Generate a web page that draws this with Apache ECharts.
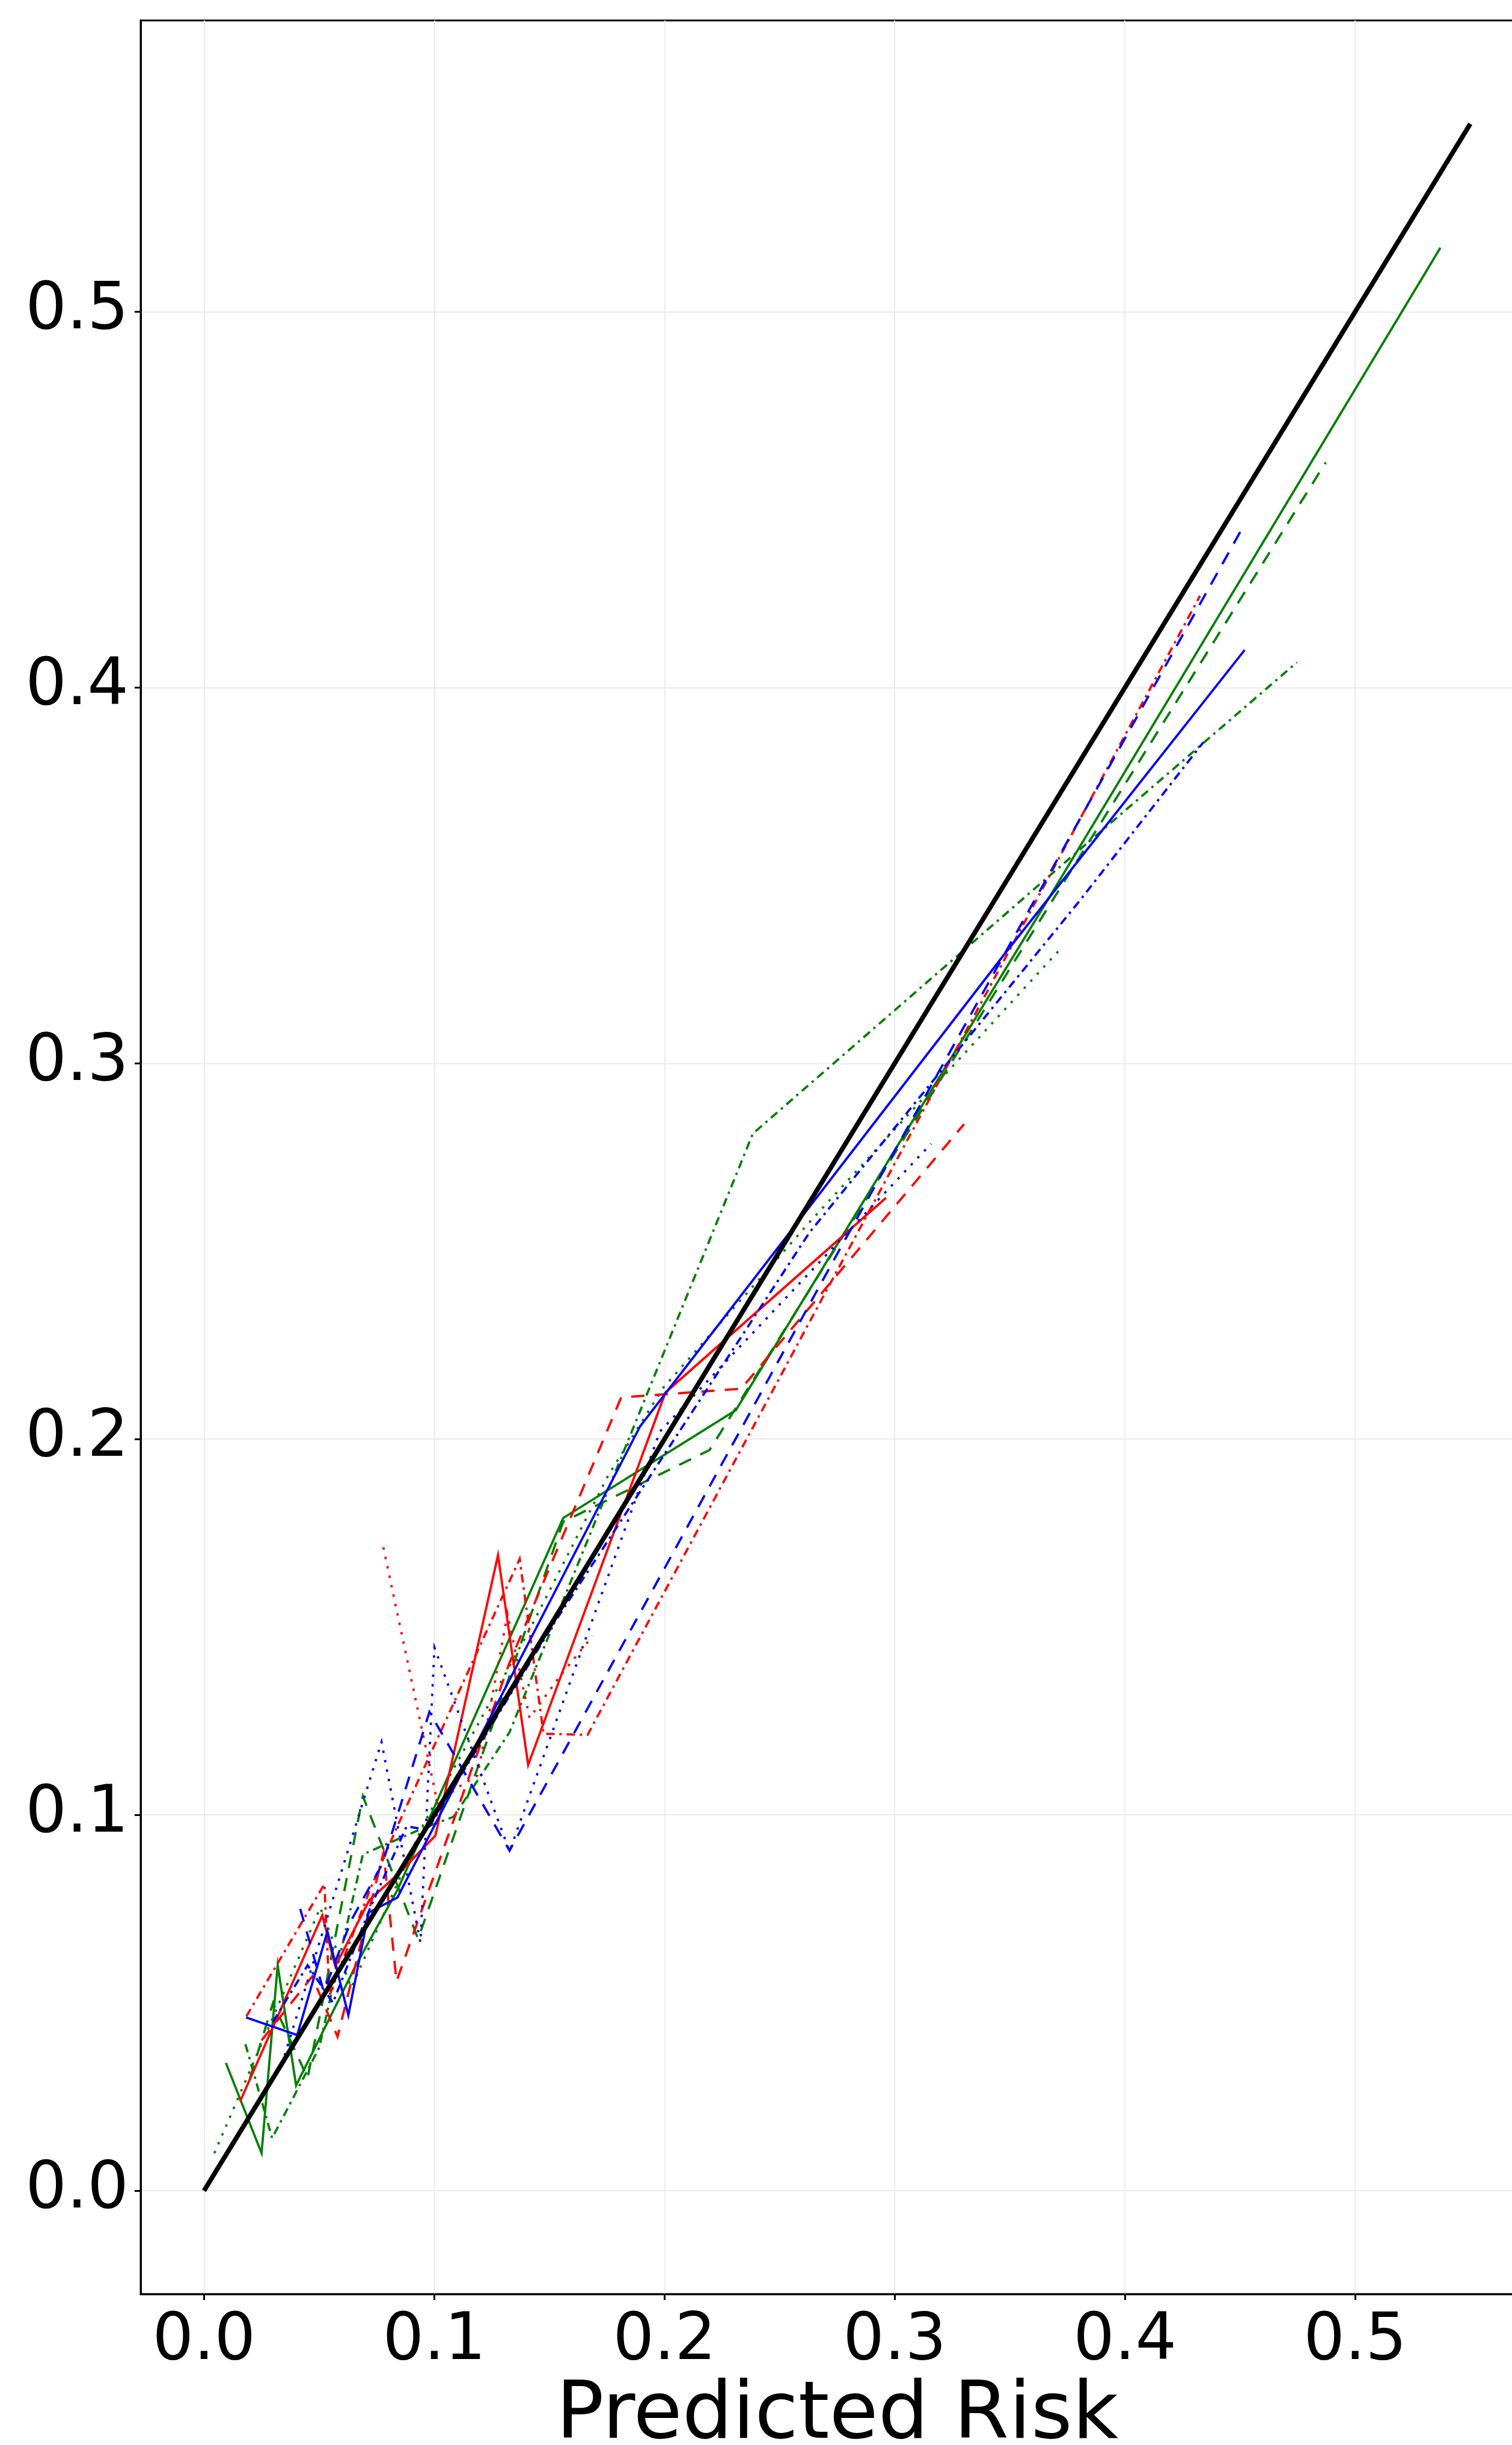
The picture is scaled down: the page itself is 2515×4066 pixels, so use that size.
<!DOCTYPE html>
<html>
<head>
<meta charset="utf-8">
<script src="https://cdn.jsdelivr.net/npm/echarts@6/dist/echarts.min.js"></script>
<style>
  html, body { margin: 0; padding: 0; background: #fff; overflow: hidden; }
  #chart { width: 2580px; height: 4066px; }
</style>
</head>
<body>
<div id="chart"></div>
<script>
// tick positions, both axes
const tickValues = [0, 0.1, 0.2, 0.3, 0.4, 0.5];

// perfect calibration
const perfect = [[0, 0], [0.55, 0.55]];

// calibration curves, [predicted, observed]
const blueSolid = [[0.0183, 0.0461], [0.0405, 0.0414], [0.0536, 0.069], [0.0627, 0.0467], [0.0715, 0.074], [0.084, 0.078], [0.1894, 0.2034], [0.3466, 0.3282], [0.452, 0.410]];
const blueDashed = [[0.0418, 0.075], [0.052, 0.053], [0.064, 0.072], [0.0775, 0.087], [0.0979, 0.1274], [0.1327, 0.0905], [0.2771, 0.2516], [0.4518, 0.4433]];
const blueDotted = [[0.035, 0.036], [0.0771, 0.1194], [0.0832, 0.1001], [0.094, 0.066], [0.1001, 0.1445], [0.1327, 0.0903], [0.198, 0.202], [0.3158, 0.2786]];
const blueDashdot = [[0.030, 0.045], [0.045, 0.060], [0.056, 0.050], [0.072, 0.075], [0.088, 0.097], [0.097, 0.096], [0.152, 0.151], [0.263, 0.255], [0.380, 0.343], [0.434, 0.3854]];

const redSolid = [[0.0157, 0.0238], [0.0514, 0.0733], [0.057, 0.0597], [0.0718, 0.0773], [0.0849, 0.0846], [0.1005, 0.0945], [0.1277, 0.1691], [0.1408, 0.1133], [0.2004, 0.2124], [0.2962, 0.2642]];
const redDashed = [[0.025, 0.040], [0.047, 0.057], [0.058, 0.041], [0.078, 0.090], [0.0836, 0.0557], [0.1327, 0.1405], [0.1812, 0.2111], [0.2333, 0.2134], [0.3301, 0.2838]];
const redDotted = [[0.0779, 0.1712], [0.1014, 0.1032], [0.112, 0.108], [0.1188, 0.1105], [0.1318, 0.1534], [0.1414, 0.1258], [0.1553, 0.1375], [0.1688, 0.1476]];
const redDashdot = [[0.0184, 0.0464], [0.0523, 0.0816], [0.0545, 0.052], [0.072, 0.080], [0.084, 0.097], [0.1371, 0.1681], [0.1475, 0.1216], [0.1666, 0.1213], [0.4326, 0.4244]];

const greenSolid = [[0.0095, 0.034], [0.025, 0.010], [0.032, 0.060], [0.040, 0.028], [0.066, 0.060], [0.084, 0.080], [0.156, 0.179], [0.231, 0.2077], [0.366, 0.343], [0.537, 0.517]];
const greenDashed = [[0.020, 0.030], [0.030, 0.050], [0.045, 0.030], [0.069, 0.105], [0.093, 0.067], [0.156, 0.178], [0.2196, 0.1971], [0.4872, 0.4599]];
const greenDotted = [[0.0045, 0.010], [0.0505, 0.0753], [0.064, 0.054], [0.0953, 0.0975], [0.1427, 0.1508], [0.1757, 0.1905], [0.1995, 0.2137], [0.264, 0.2584], [0.371, 0.3298]];
const greenDashdot = [[0.018, 0.039], [0.0296, 0.014], [0.050, 0.038], [0.069, 0.0895], [0.0953, 0.0965], [0.1084, 0.0995], [0.1327, 0.122], [0.2384, 0.2813], [0.3655, 0.349], [0.4747, 0.4067]];

const BLUE = '#0000ff', RED = '#ff0000', GREEN = '#008000';
const DASHED = [22, 17], DOTTED = [4, 12], DASHDOT = [14, 8, 4, 8];
const FONT = 'DejaVu Sans';

function curve(data, color, type, width) {
  return {
    type: 'line',
    data: data,
    showSymbol: false,
    symbol: 'none',
    silent: true,
    lineStyle: { color: color, width: width || 3.8, type: type, cap: 'butt', join: 'miter' }
  };
}

function axisCommon() {
  return {
    type: 'value',
    min: -0.0275,
    max: 0.5775,
    axisLine: { show: true, onZero: false, lineStyle: { color: '#000', width: 3 } },
    axisTick: { show: true, customValues: tickValues, length: 10, lineStyle: { color: '#000', width: 3 } },
    axisLabel: {
      customValues: tickValues,
      fontSize: 108,
      fontFamily: FONT,
      color: '#000',
      formatter: function (v) { return v.toFixed(1); }
    },
    splitLine: { show: true, lineStyle: { color: '#ebebeb', width: 2 } }
  };
}

var chart = echarts.init(document.getElementById('chart'));

var xAxis = axisCommon();
xAxis.axisLabel.margin = 26;
xAxis.name = 'Predicted Risk';
xAxis.nameLocation = 'middle';
xAxis.nameGap = 132;
xAxis.nameTextStyle = { fontSize: 132, fontFamily: FONT, color: '#000' };

var yAxis = axisCommon();
yAxis.axisLabel.margin = 20;

var option = {
  animation: false,
  backgroundColor: '#fff',
  grid: {
    left: 234, top: 34, width: 2317, height: 3781,
    outerBoundsMode: 'none',
    show: true, borderColor: '#000', borderWidth: 3, containLabel: false
  },
  xAxis: xAxis,
  yAxis: yAxis,
  series: [
    curve(greenDashdot, GREEN, DASHDOT),
    curve(greenDotted, GREEN, DOTTED),
    curve(greenDashed, GREEN, DASHED),
    curve(greenSolid, GREEN, 'solid'),
    curve(redDashdot, RED, DASHDOT),
    curve(redDotted, RED, DOTTED),
    curve(redDashed, RED, DASHED),
    curve(redSolid, RED, 'solid'),
    curve(blueDashdot, BLUE, DASHDOT),
    curve(blueDotted, BLUE, DOTTED),
    curve(blueDashed, BLUE, DASHED),
    curve(blueSolid, BLUE, 'solid'),
    curve(perfect, '#000', 'solid', 7.7)
  ]
};

chart.setOption(option);
</script>
</body>
</html>
